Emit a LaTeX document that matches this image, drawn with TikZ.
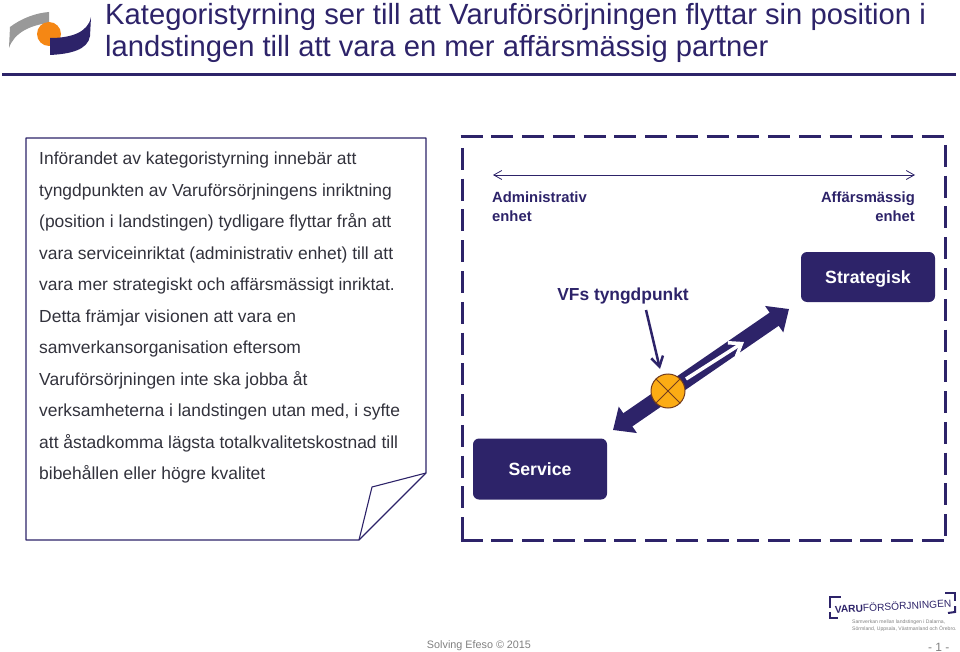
\documentclass[tikz,border=0pt]{standalone}
\usepackage{fontspec}
\setmainfont{Liberation Sans}
\usetikzlibrary{arrows.meta}
\definecolor{varublue}{RGB}{45,35,105}
\definecolor{varutext}{RGB}{50,50,60}
\definecolor{varuorange}{RGB}{245,135,20}
\definecolor{crossfill}{RGB}{252,172,20}
\definecolor{crossline}{RGB}{115,60,30}
\tikzset{
  solidbox/.style={draw=none,fill=varublue,rounded corners=6pt,text=white,text depth=0pt,font=\bfseries\fontsize{17.7}{20}\selectfont,align=center},
  endlabel/.style={text=varublue,font=\bfseries\fontsize{14.8}{18.5}\selectfont},
  bodytext/.style={text=varutext,font=\fontsize{17.45}{31.5}\selectfont,align=left,anchor=north west,inner sep=0pt},
  dashframe/.style={draw=varublue,line width=3pt,dash pattern=on 22pt off 8.75pt},
}
\begin{document}
\begin{tikzpicture}[x=1pt,y=-1pt]
  \useasboundingbox (0,0) rectangle (960,652);
  % logo
  \fill[gray!80] (9,48) -- (10,27) .. controls (22,18) and (36,13) .. (49,12) -- (49,23) .. controls (30,25) and (14,33) .. (9,48) -- cycle;
  \fill[varuorange] (49,34) circle (12);
  \fill[varublue] (50,38) .. controls (70,38) and (88,33) .. (91,17) -- (90,36) .. controls (88,50) and (70,54) .. (50,55) -- cycle;
  % title
  \node[anchor=north west,inner sep=0pt,text=varublue,font=\fontsize{29.2}{32}\selectfont,align=left] (title) at (105,3)
    {Kategoristyrning ser till att Varuförsörjningen flyttar sin position i\\landstingen till att vara en mer affärsmässig partner};
  \draw[varublue,line width=2.5pt] (2,74.5) -- (956,74.5);
  % note
  \coordinate (na) at (26,138);
  \coordinate (nb) at (426,138);
  \coordinate (nc) at (426,473);
  \coordinate (nd) at (359,540);
  \coordinate (ne) at (26,540);
  \coordinate (nf) at (372,487);
  \draw[varublue,line width=1.1pt,line join=round] (na) -- (nb) -- (nc) -- (nd) -- (ne) -- cycle;
  \draw[varublue,line width=1.1pt,line join=round] (nc) -- (nf) -- (nd);
  \node[bodytext] (body) at (39,152) {Införandet av kategoristyrning innebär att\\
    tyngdpunkten av Varuförsörjningens inriktning\\
    (position i landstingen) tydligare flyttar från att\\
    vara serviceinriktat (administrativ enhet) till att\\
    vara mer strategiskt och affärsmässigt inriktat.\\
    Detta främjar visionen att vara en\\
    samverkansorganisation eftersom\\
    Varuförsörjningen inte ska jobba åt\\
    verksamheterna i landstingen utan med, i syfte\\
    att åstadkomma lägsta totalkvalitetskostnad till\\
    bibehållen eller högre kvalitet};
  % frame
  \draw[dashframe] (460.5,137) -- (945,137) (945,145) -- (945,540) (462,148) -- (462,540) (460.5,540) -- (945,540);
  % scale
  \coordinate (sl) at (493,175);
  \coordinate (sr) at (915,175);
  \draw[varublue,line width=0.8pt,{Straight Barb[length=8pt,width=9pt]}-{Straight Barb[length=8pt,width=9pt]}] (sl) -- (sr);
  \node[endlabel,anchor=north west,inner sep=0pt,align=left] (admin) at (492,192) {Administrativ\\enhet};
  \node[endlabel,anchor=north east,inner sep=0pt,align=right] (affar) at (915,192) {Affärsmässig\\enhet};
  % boxes
  \node[solidbox,minimum width=134pt,minimum height=50pt] (strategisk) at (868,277) {Strategisk};
  \node[solidbox,minimum width=134pt,minimum height=61pt] (service) at (540,469) {Service};
  \node[endlabel,font=\bfseries\fontsize{17.4}{19}\selectfont,inner sep=0pt] (vfs) at (623,296) {VFs tyngdpunkt};
  % movement
  \coordinate (at) at (613,430);
  \coordinate (as) at (789,309);
  \draw[varublue,line width=16pt,{Triangle[length=18pt,width=31pt]}-{Triangle[length=18pt,width=31pt]}] (at) -- (as);
  \coordinate (wa) at (686,379);
  \coordinate (wb) at (744,342);
  \draw[white,line width=3.5pt,-{Straight Barb[length=11pt,width=16pt,line width=3.5pt]}] (wa) -- (wb);
  \coordinate (vft) at (646,310);
  \draw[varublue,line width=2.5pt,-{Straight Barb[length=10pt,width=12pt]}] (vft) -- (660,369);
  \node[circle,draw=crossline,fill=crossfill,line width=1pt,minimum size=34pt,inner sep=0pt] (cross) at (668,391) {};
  \draw[crossline,line width=1pt] (cross.north west) -- (cross.south east);
  \draw[crossline,line width=1pt] (cross.north east) -- (cross.south west);
  % footer
  \node[text=gray,font=\fontsize{10.8}{14}\selectfont] (foot) at (479,645.5) {Solving Efeso © 2015};
  \node[text=gray,font=\fontsize{12}{14}\selectfont,anchor=east] (page) at (953,647) {- 1 -};
  \node[text=varublue,font=\fontsize{10.2}{13}\selectfont,inner sep=0pt,rotate=3] (flogo) at (893,606) {\textbf{VARU}FÖRSÖRJNINGEN};
  \draw[varublue,line width=2pt] (830,608) -- (830,597) -- (841,597);
  \draw[varublue,line width=2pt] (830,612) -- (830,618) -- (838,618);
  \draw[varublue,line width=2pt] (945,593) -- (955,593) -- (955,601);
  \draw[varublue,line width=2pt] (955,606) -- (955,612) -- (948,613);
  \node[text=gray,font=\fontsize{5.1}{6.2}\selectfont,align=left,anchor=north west,inner sep=0pt] (fsub) at (852,620) {Samverkan mellan landstingen i Dalarna,\\Sörmland, Uppsala, Västmanland och Örebro.};
\end{tikzpicture}
\end{document}
